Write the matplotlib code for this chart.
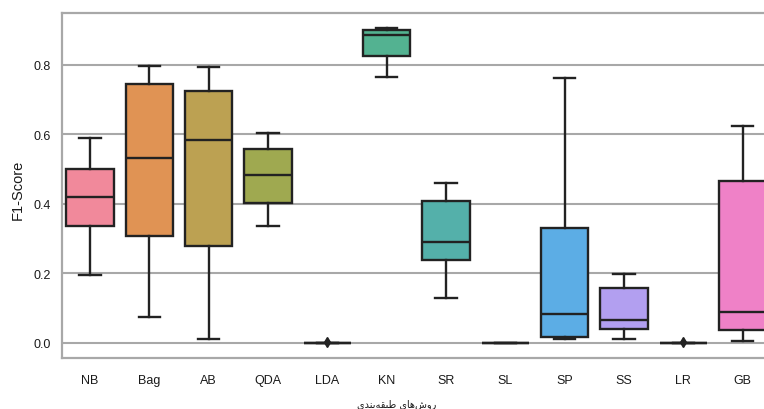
import matplotlib
matplotlib.use("Agg")
import matplotlib.pyplot as plt
import matplotlib.colors as mcolors
import seaborn as sns

categories = ["NB", "Bag", "AB", "QDA", "LDA", "KN", "SR", "SL", "SP", "SS", "LR", "GB"]
q1 = [0.337, 0.308, 0.278, 0.402, 0.0, 0.826, 0.239, 0.0, 0.018, 0.040, 0.0, 0.037]
median = [0.420, 0.532, 0.583, 0.484, 0.0, 0.885, 0.289, 0.0, 0.083, 0.067, 0.0, 0.088]
q3 = [0.500, 0.745, 0.725, 0.558, 0.0, 0.899, 0.408, 0.0, 0.331, 0.159, 0.0, 0.466]
whisker_low = [0.196, 0.076, 0.012, 0.335, 0.0, 0.764, 0.128, 0.0, 0.012, 0.010, 0.0, 0.006]
whisker_high = [0.590, 0.797, 0.792, 0.605, 0.0, 0.906, 0.459, 0.0, 0.762, 0.198, 0.0, 0.625]
outliers = [[], [], [], [], [0.003], [], [], [], [], [], [0.003], []]
yticks = [0.0, 0.2, 0.4, 0.6, 0.8]
ytick_labels = ["0.0", "0.2", "0.4", "0.6", "0.8"]
ylabel = "F1-Score"

# Persian x label "روش‌های طبقه‌بندی" pre-shaped with presentation forms, visual order
_logical = ["\uFEAD", "\uFEED", "\uFEB5", "\uFEEB", "\uFE8E", "\uFEEF", " ",
            "\uFEC3", "\uFE92", "\uFED8", "\uFEEA", "\uFE91", "\uFEE8", "\uFEAA", "\uFEEF"]
xlabel = "".join(reversed(_logical))


def _lighten(c, f=0.12):
    r, g, b = mcolors.to_rgb(c)
    return (r + (1 - r) * f, g + (1 - g) * f, b + (1 - b) * f)


palette = [_lighten(sns.desaturate(c, 0.88)) for c in sns.color_palette("husl", len(categories))]
dark = "#222222"
gridc = "#a8a8a8"

fig = plt.figure(figsize=(7.64, 4.10), dpi=100)
ax = fig.add_axes([0.0808, 0.1237, 1.0 - 0.0808, 0.9659 - 0.1237])

stats = []
for i, c in enumerate(categories):
    stats.append(dict(label=c, med=median[i], q1=q1[i], q3=q3[i],
                      whislo=whisker_low[i], whishi=whisker_high[i], fliers=outliers[i]))

bp = ax.bxp(stats, positions=list(range(len(categories))), widths=0.8, capwidths=0.36,
            patch_artist=True, showfliers=True,
            boxprops=dict(edgecolor=dark, linewidth=1.7),
            medianprops=dict(color=dark, linewidth=1.7),
            whiskerprops=dict(color=dark, linewidth=1.7),
            capprops=dict(color=dark, linewidth=1.7),
            flierprops=dict(marker="d", markerfacecolor=dark, markeredgecolor=dark, markersize=5))
for patch, col in zip(bp["boxes"], palette):
    patch.set_facecolor(col)

ax.set_xlim(-0.477, 11.36)
ax.set_ylim(-0.044, 0.9486)
ax.set_yticks(yticks)
ax.set_yticklabels(ytick_labels)
ax.set_xticks(list(range(len(categories))))
ax.set_xticklabels(categories)
ax.tick_params(axis="both", length=0, labelsize=9, colors="#1a1a1a")
ax.tick_params(axis="y", pad=8)
ax.tick_params(axis="x", pad=11)
for lab in ax.get_xticklabels() + ax.get_yticklabels():
    lab.set_fontfamily("Liberation Sans")

ax.yaxis.grid(True, color=gridc, linewidth=1.5)
ax.set_axisbelow(True)
for s in ["left", "top", "bottom"]:
    ax.spines[s].set_color(gridc)
    ax.spines[s].set_linewidth(1.6)
ax.spines["right"].set_visible(False)

ax.set_ylabel(ylabel, fontsize=10.5, family="Liberation Sans", color="#1a1a1a")
ax.yaxis.set_label_coords(-0.053, 0.49)
ax.set_xlabel(xlabel, fontsize=7, family=["DejaVu Sans"], color="#1a1a1a")
ax.xaxis.set_label_coords(0.477, -0.115)

fig.savefig("out.png", dpi=100)
